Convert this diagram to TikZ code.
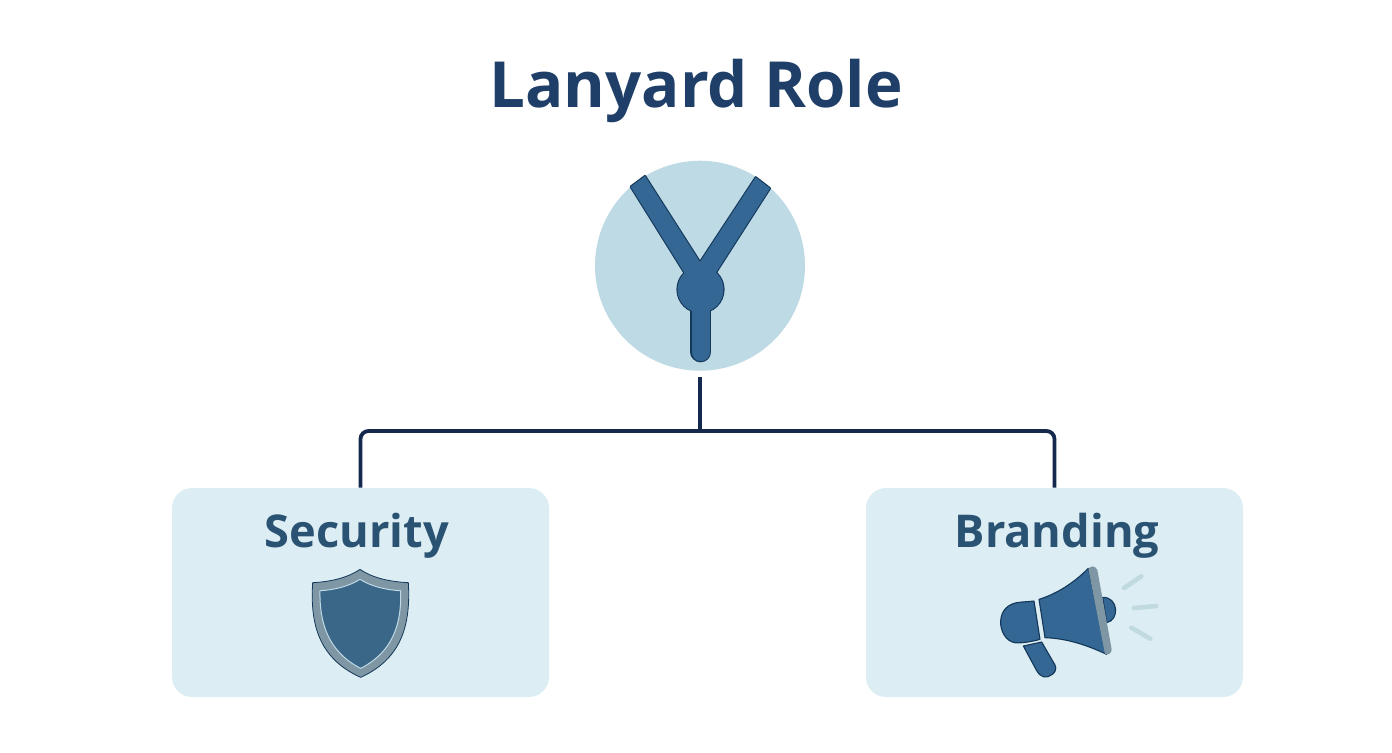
\documentclass[tikz,border=0pt]{standalone}
\usepackage{fontspec}
\setmainfont{Open Sans}
\definecolor{titleblue}{HTML}{1F3F68}
\definecolor{labelblue}{HTML}{2A5273}
\definecolor{boxfill}{HTML}{DCEEF3}
\definecolor{hubfill}{HTML}{BDDAE5}
\definecolor{iconblue}{HTML}{346793}
\definecolor{shieldblue}{HTML}{3A6688}
\definecolor{icondark}{HTML}{14375A}
\definecolor{linknavy}{HTML}{14294D}
\definecolor{rimgrey}{HTML}{7F97A4}
\definecolor{rayfill}{HTML}{C0DAE0}
\tikzset{
  panel/.style={draw=none,fill=boxfill,rounded corners=10pt,minimum width=188.5pt,minimum height=104.5pt,inner sep=0pt},
  hub/.style={circle,draw=none,fill=hubfill,minimum size=105pt,inner sep=0pt},
  link/.style={draw=linknavy,line width=1.9pt},
  icon/.style={fill=iconblue,draw=icondark,line width=.55pt,line join=round},
  strapoutline/.style={draw=icondark,line width=1.1pt,fill=icondark,line join=round},
  strapfill/.style={fill=iconblue,draw=none},
  zoomed/.style={x=0.16667pt,y=-0.16667pt},
  lbl/.style={text=labelblue,font=\fontsize{22.6}{26}\selectfont\bfseries,inner sep=0pt,anchor=center},
}
\begin{document}
\begin{tikzpicture}[x=0.5pt,y=-0.5pt]
\useasboundingbox (0,0) rectangle (1392,752);
\node[text=titleblue,font=\fontsize{31.8}{38}\selectfont\bfseries,inner sep=0pt] (title) at (696,91) {Lanyard Role};
\node[hub] (root) at (700,265.7) {};
\node[panel] (sec) at (360.5,592.5) {};
\node[panel] (brand) at (1054.5,592.5) {};
\node[lbl] (seclabel) at (357,536) {Security};
\node[lbl] (brandlabel) at (1057,536) {Branding};
% lanyard: outline pass, then fill pass, so the parts merge
\path[strapoutline] (630.7,186.7) -- (645,176) -- (700,262) -- (755.7,177.3) -- (770,188.3) -- (708,285) -- (692,285) -- cycle;
\path[strapoutline] (700.5,289.5) circle (23);
\draw[icondark,line width=10.3pt,line cap=round] (700.7,300) -- (700.7,352);
\path[strapfill] (630.7,186.7) -- (645,176) -- (700,262) -- (755.7,177.3) -- (770,188.3) -- (708,285) -- (692,285) -- cycle;
\path[strapfill] (700.5,289.5) circle (23);
\draw[iconblue,line width=9.2pt,line cap=round] (700.7,300) -- (700.7,352);
% connectors
\coordinate (junction) at (700,431);
\draw[link] ([yshift=-3pt]root.south) -- (junction);
\draw[link,rounded corners=4pt] (sec.north) |- (junction) -| (brand.north);
% shield
\begin{scope}[shift={(145pt,-275pt)},zoomed]
\fill[rimgrey,draw=icondark,line width=.4pt,line join=round] (210,58) .. controls (170,85) and (120,95) .. (68,98)
  .. controls (60,220) and (85,325) .. (212,382) .. controls (338,325) and (362,220) .. (355,98)
  .. controls (300,95) and (250,85) .. (210,58) -- cycle;
\draw[fill=shieldblue,draw=hubfill,line width=.5pt,line join=round] (210,88) .. controls (175,110) and (130,120) .. (90,122)
  .. controls (88,220) and (115,305) .. (212,355) .. controls (310,305) and (335,220) .. (332,122)
  .. controls (290,120) and (245,110) .. (210,88) -- cycle;
\end{scope}
% megaphone
\begin{scope}[shift={(480pt,-275pt)},zoomed]
\draw[rayfill,line width=2.3pt,line cap=round] (492,114) -- (544,79);
\draw[rayfill,line width=2.3pt,line cap=round] (521,174) -- (589,168);
\draw[rayfill,line width=2.3pt,line cap=round] (514,233) -- (571,266);
\draw[icon] (428,142) .. controls (475,140) and (480,210) .. (440,218) -- cycle;
\draw[icon] (222,153) -- (240,268) .. controls (215,275) and (185,280) .. (165,278)
  .. controls (140,275) and (120,245) .. (122,212) .. controls (124,180) and (145,163) .. (170,158) .. controls (190,155) and (205,155) .. (222,153) -- cycle;
\draw[icon] (190,288) -- (245,276) -- (285,345) .. controls (295,365) and (270,385) .. (250,380) .. controls (240,378) and (235,370) .. (230,362) -- cycle;
\draw[icon] (237,148) .. controls (295,130) and (345,95) .. (385,55) -- (440,313) .. controls (380,285) and (320,265) .. (255,263) -- cycle;
\fill[rimgrey,line join=round] (385,57) .. controls (392,47) and (405,45) .. (412,60) -- (455,298) .. controls (455,310) and (445,316) .. (435,312) -- cycle;
\end{scope}
\end{tikzpicture}
\end{document}
